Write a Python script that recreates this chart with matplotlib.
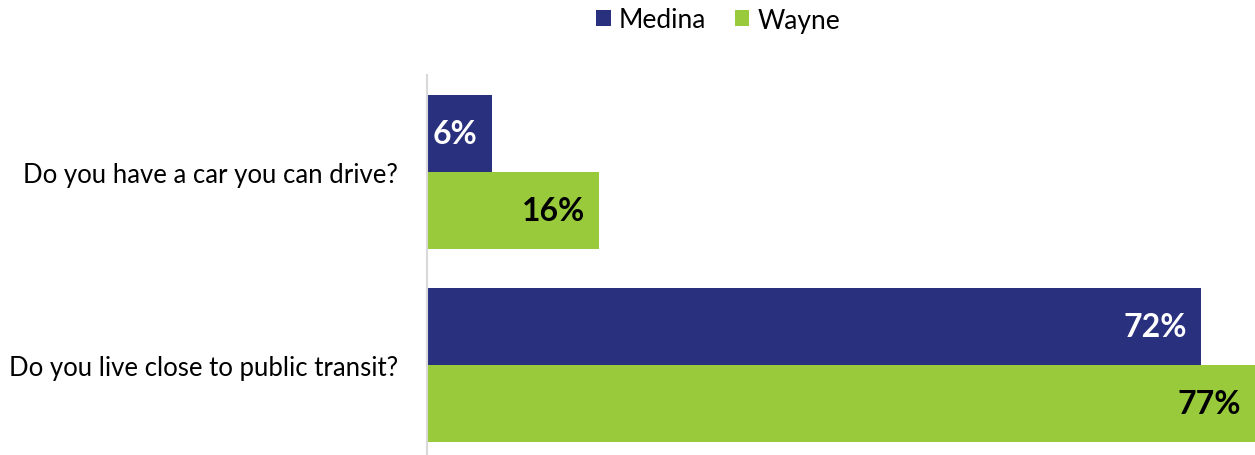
import matplotlib.pyplot as plt
import numpy as np

questions = ['Do you have a car you can drive?', 'Do you live close to public transit?']
medina = [6, 72]
wayne = [16, 77]
series = ['Medina', 'Wayne']
colors = ['#29307D', '#99CA3C']
label_colors = ['white', 'black']

plt.rcParams['font.family'] = ['Lato', 'DejaVu Sans']

fig = plt.figure(figsize=(12.55, 4.56), dpi=100)
ax = fig.add_axes([427 / 1255, 0, 1 - 427 / 1255, 1 - 76 / 456])

y = np.arange(len(questions))
h = 0.4
for i, (vals, name) in enumerate(zip([medina, wayne], series)):
    pos = y - h / 2 + i * h
    bars = ax.barh(pos, vals, height=h, color=colors[i], label=name)
    for b, v in zip(bars, vals):
        ax.annotate(f'{v}%', (b.get_width(), b.get_y() + b.get_height() / 2),
                    xytext=(-14, 0), textcoords='offset pixels',
                    ha='right', va='center', fontsize=23, fontweight='bold',
                    color=label_colors[i])

ax.set_xlim(0, 77)
ax.set_ylim(1 + 90 / 193, -97 / 193)
ax.set_yticks(y)
ax.set_yticklabels(questions, fontsize=18.5)
ax.tick_params(axis='y', length=0, pad=21)
ax.set_xticks([])
for s in ['top', 'right', 'bottom']:
    ax.spines[s].set_visible(False)
ax.spines['left'].set_color('#d9d9d9')
ax.spines['left'].set_linewidth(1.5)

fig.legend(loc='center', bbox_to_anchor=(718 / 1255, 1 - 21 / 456), ncol=2,
           frameon=False, fontsize=19, handlelength=0.55, handleheight=0.55,
           handletextpad=0.3, columnspacing=1.1)

fig.savefig('out.png', dpi=100)
